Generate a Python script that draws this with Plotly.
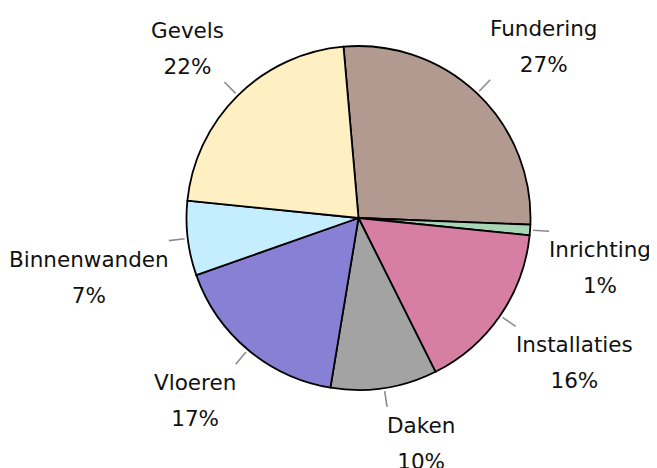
import math
import plotly.graph_objects as go

# ---- data ----
labels = ["Fundering", "Inrichting", "Installaties", "Daken", "Vloeren", "Binnenwanden", "Gevels"]
values = [27, 1, 16, 10, 17, 7, 22]
colors = ["#B39A90", "#A8D5B5", "#D77EA3", "#A3A3A3", "#8780D4", "#C4EEFD", "#FEF0C2"]

# ---- layout constants ----
W, H = 657, 468
PAGE_MARGIN = 8                     # browser body margin shifts the figure
CX, CY, R = 358.5 - PAGE_MARGIN, 218 - PAGE_MARGIN, 172   # pie centre / radius (figure px)
ROTATION = -5                       # start angle (deg, clockwise from 12 o'clock)
TICK_IN, TICK_OUT = 3, 19
FONT = "DejaVu Sans"
TXT = 21.5

fig = go.Figure(go.Pie(
    labels=labels, values=values, sort=False, direction="clockwise",
    rotation=ROTATION, textinfo="none", hoverinfo="label+percent",
    marker=dict(colors=colors, line=dict(color="black", width=1.8)),
    domain=dict(x=[(CX - R) / W, (CX + R) / W], y=[(H - CY - R) / H, (H - CY + R) / H]),
    showlegend=False,
))

total = sum(values)
cum = 0
shapes, annotations = [], []
for lab, v in zip(labels, values):
    mid = math.radians(ROTATION + (cum + v / 2) / total * 360)
    cum += v
    s, c = math.sin(mid), math.cos(mid)
    x0, y0 = CX + (R + TICK_IN) * s, CY - (R + TICK_IN) * c
    x1, y1 = CX + (R + TICK_OUT) * s, CY - (R + TICK_OUT) * c
    shapes.append(dict(type="line", xref="paper", yref="paper",
                       x0=x0 / W, y0=1 - y0 / H, x1=x1 / W, y1=1 - y1 / H,
                       line=dict(color="#8C8C8C", width=1.6)))
    pct = round(v / total * 100)
    upper = c > 0
    annotations.append(dict(
        xref="paper", yref="paper", x=x1 / W, y=1 - y1 / H,
        xanchor="left" if s > 0 else "right",
        yanchor="bottom" if upper else "top",
        showarrow=False, align="center",
        xshift=-2 if s > 0 else 2,
        yshift=1 if upper else -4,
        text=f"<span style='font-size:{TXT}px'>{lab}</span><br>"
             f"<span style='font-size:{TXT}px'>{pct}%</span>",
        font=dict(family=FONT, size=28, color="#111111"),
    ))

fig.update_layout(
    width=W, height=H, margin=dict(l=0, r=0, t=0, b=0),
    paper_bgcolor="white", plot_bgcolor="white",
    shapes=shapes, annotations=annotations,
)
fig.write_html("out.html")
